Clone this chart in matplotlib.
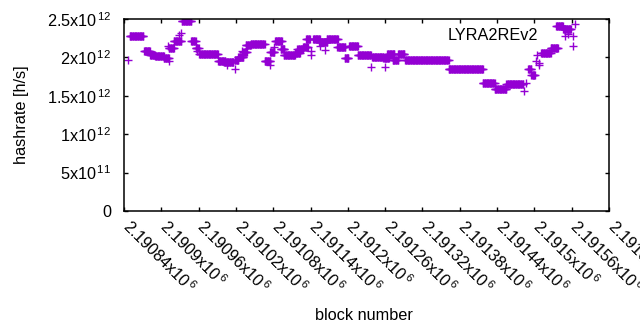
import numpy as np
import matplotlib
matplotlib.use("Agg")
import matplotlib.pyplot as plt
import matplotlib.transforms as mtransforms

plt.rcParams['font.family'] = ['Liberation Sans', 'DejaVu Sans']
plt.rcParams['mathtext.fontset'] = 'custom'
plt.rcParams['mathtext.rm'] = 'Liberation Sans'
plt.rcParams['mathtext.it'] = 'Liberation Sans'

# runs of constant hashrate: first block, last block, hashrate [h/s]
seg_start = [2190849, 2190872, 2190882, 2190890, 2190904, 2190912, 2190920, 2190933,
             2190948, 2190955, 2190961, 2190991, 2191001, 2191018, 2191024, 2191032,
             2191036, 2191044, 2191066, 2191075, 2191083, 2191092, 2191097, 2191115,
             2191119, 2191128, 2191133, 2191144, 2191154, 2191166, 2191183, 2191195,
             2191202, 2191216, 2191239, 2191257, 2191263, 2191272, 2191281, 2191292,
             2191362, 2191417, 2191436, 2191455, 2191490, 2191495, 2191511, 2191526,
             2191535, 2191546]
seg_end = [2190871, 2190882, 2190890, 2190904, 2190912, 2190920, 2190932, 2190948,
           2190955, 2190960, 2190991, 2191003, 2191016, 2191024, 2191032, 2191038,
           2191044, 2191066, 2191075, 2191082, 2191094, 2191098, 2191115, 2191123,
           2191128, 2191136, 2191139, 2191155, 2191167, 2191184, 2191196, 2191201,
           2191216, 2191237, 2191257, 2191266, 2191275, 2191281, 2191291, 2191362,
           2191417, 2191436, 2191455, 2191482, 2191495, 2191501, 2191526, 2191538,
           2191546, 2191559]
seg_rate = [2.275e12, 2.079e12, 2.035e12, 2.014e12, 1.996e12, 2.126e12, 2.217e12, 2.470e12,
            2.210e12, 2.126e12, 2.040e12, 1.957e12, 1.936e12, 1.970e12, 2.009e12, 2.070e12,
            2.157e12, 2.170e12, 1.949e12, 2.070e12, 2.210e12, 2.105e12, 2.027e12, 2.057e12,
            2.105e12, 2.135e12, 2.236e12, 2.243e12, 2.200e12, 2.236e12, 2.139e12, 1.992e12,
            2.144e12, 2.027e12, 2.009e12, 1.992e12, 2.048e12, 1.970e12, 2.048e12, 1.970e12,
            1.845e12, 1.671e12, 1.592e12, 1.650e12, 1.845e12, 1.775e12, 2.057e12, 2.122e12,
            2.411e12, 2.370e12]

# single outlying blocks
pt_block = [2190847, 2190912, 2190910, 2190932, 2190928, 2190957, 2191006, 2191018,
            2191029, 2191074, 2191081, 2191141, 2191141, 2191164, 2191155, 2191237,
            2191260, 2191483, 2191487, 2191505, 2191503, 2191507, 2191508, 2191550,
            2191562, 2191562, 2191565]
pt_rate = [1.962e12, 1.953e12, 2.144e12, 2.322e12, 2.292e12, 2.079e12, 1.897e12, 1.845e12,
           2.079e12, 1.897e12, 2.131e12, 2.079e12, 2.027e12, 2.100e12, 2.144e12, 1.875e12,
           1.875e12, 1.562e12, 1.663e12, 2.027e12, 1.949e12, 1.927e12, 1.897e12, 2.275e12,
           2.275e12, 2.144e12, 2.431e12]

x_ticks = [2190840 + 60 * i for i in range(14)]
x_labels = ["2.19084", "2.1909", "2.19096", "2.19102", "2.19108", "2.19114", "2.1912",
            "2.19126", "2.19132", "2.19138", "2.19144", "2.1915", "2.19156", "2.19162"]
y_ticks = [0, 0.5e12, 1e12, 1.5e12, 2e12, 2.5e12]
y_labels = ["0", r"5x10$^{\,11}$", r"1x10$^{\,12}$", r"1.5x10$^{\,12}$",
            r"2x10$^{\,12}$", r"2.5x10$^{\,12}$"]

blocks = []
rates = []
for s, e, r in zip(seg_start, seg_end, seg_rate):
    for b in range(s, e + 1):
        blocks.append(b)
        rates.append(r)
blocks += pt_block
rates += pt_rate

fs = 11.7

fig = plt.figure(figsize=(6.4, 3.3), dpi=100)
ax = fig.add_axes([124 / 640, 1 - 211 / 330, 485 / 640, 192 / 330])

ax.plot(blocks, rates, linestyle='none', marker='+', markersize=5.2,
        markeredgewidth=1.0, color='#9400d3', label='LYRA2REv2')

ax.set_xlim(2190840, 2191620)
ax.set_ylim(0, 2.5e12)
ax.set_xticks(x_ticks)
ax.set_xticklabels([])
# rotated tick labels, drawn as texts so they can be nudged onto the ticks
trans = ax.get_xaxis_transform() + mtransforms.ScaledTranslation(
    -3 / 100, -17 / 100, fig.dpi_scale_trans)
for t, l in zip(x_ticks, x_labels):
    ax.text(t, 0, l + r"x10$^{\,6}$", transform=trans, rotation=-45,
            ha='left', va='baseline', rotation_mode='anchor', fontsize=fs,
            clip_on=False)
ax.set_yticks(y_ticks)
ax.set_yticklabels(y_labels)
ax.tick_params(direction='in', length=3, width=1, top=True, right=True,
               labelsize=fs, pad=9)
for sp in ax.spines.values():
    sp.set_linewidth(1.1)

fig.text(364 / 640, 1 - 315 / 330, 'block number', fontsize=fs,
         ha='center', va='center')
ax.set_ylabel('hashrate [h/s]', fontsize=fs, labelpad=13)

ax.legend(loc='upper right', bbox_to_anchor=(0.965, 0.996), frameon=False,
          markerfirst=False, borderpad=0, handlelength=2, handletextpad=0.8,
          fontsize=fs)

fig.savefig('out.png', dpi=100)
